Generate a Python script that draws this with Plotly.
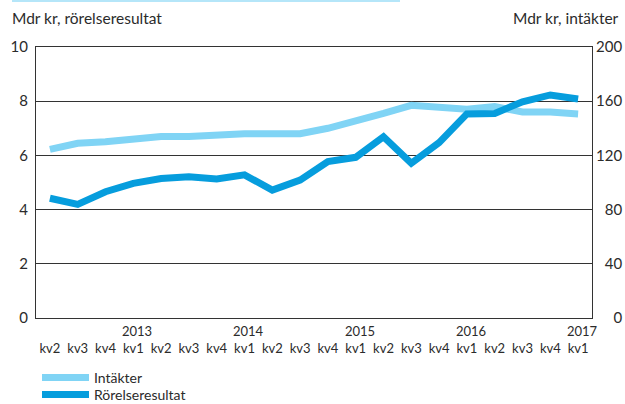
import plotly.graph_objects as go

quarters = ["kv2", "kv3", "kv4", "kv1", "kv2", "kv3", "kv4", "kv1", "kv2", "kv3",
            "kv4", "kv1", "kv2", "kv3", "kv4", "kv1", "kv2", "kv3", "kv4", "kv1"]
years = ["2012", "2012", "2012", "2013", "2013", "2013", "2013", "2014", "2014", "2014",
         "2014", "2015", "2015", "2015", "2015", "2016", "2016", "2016", "2016", "2017"]
categories = [f"{y} {q}" for y, q in zip(years, quarters)]

intakter = [124.5, 129, 130, 132, 134, 134, 135.5, 136, 136, 136,
            140, 145, 151, 157, 155, 154, 156, 152, 152, 150.5]
rorelseresultat = [4.42, 4.19, 4.66, 4.97, 5.15, 5.21, 5.13, 5.28, 4.72, 5.09,
                   5.77, 5.93, 6.69, 5.71, 6.47, 7.53, 7.55, 7.98, 8.23, 8.08]

left_ticks = [0, 2, 4, 6, 8, 10]
right_ticks = [0, 40, 80, 120, 160, 200]
year_labels = ["2013", "2014", "2015", "2016", "2017"]

FONT = "Lato, 'Open Sans', sans-serif"
TXT = "#2b2b2b"
DARK = "#069ddd"
LIGHT = "#80d4f5"

L, R, T, B = 36, 592, 47, 318
PW, PH = R - L, B - T

fig = go.Figure()
fig.add_trace(go.Scatter(x=categories, y=intakter, name="Intäkter", mode="lines",
                         line=dict(color=LIGHT, width=7), yaxis="y", legend="legend"))
fig.add_trace(go.Scatter(x=categories, y=rorelseresultat, name="Rörelseresultat", mode="lines",
                         line=dict(color=DARK, width=7), yaxis="y2", legend="legend2"))

leg_common = dict(xanchor="left", yanchor="middle", font=dict(size=14, color=TXT),
                  itemwidth=47, bgcolor="rgba(0,0,0,0)", borderwidth=0)

fig.update_layout(
    width=625, height=404,
    margin=dict(l=L, r=625 - R, t=T, b=404 - B, autoexpand=False),
    paper_bgcolor="white", plot_bgcolor="white",
    font=dict(family=FONT, size=14, color=TXT),
    showlegend=True,
    legend=dict(x=(37 - L) / PW, y=-(378 - B) / PH, **leg_common),
    legend2=dict(x=(37 - L) / PW, y=-(395 - B) / PH, **leg_common),
    xaxis=dict(type="category", tickmode="array", tickvals=categories, ticktext=quarters,
               range=[-0.5, 19.5], showgrid=False, showline=True, linecolor="#333",
               linewidth=1, mirror=True, ticks="outside", ticklen=18, automargin=False,
               tickcolor="rgba(0,0,0,0)", tickfont=dict(size=13, color=TXT), tickangle=0),
    yaxis=dict(side="right", range=[0, 200], tickvals=right_ticks, automargin=False,
               ticktext=[f"{v:>3d}".replace(" ", "\u2007") for v in right_ticks],
               showgrid=True, gridcolor="#333", gridwidth=1, zeroline=False,
               showline=True, linecolor="#333", linewidth=1, ticks="",
               tickfont=dict(size=15, color=TXT)),
    yaxis2=dict(side="left", overlaying="y", range=[0, 10], tickvals=left_ticks,
                showgrid=False, zeroline=False, showline=True, linecolor="#333",
                linewidth=1, ticks="", ticklabelstandoff=4, automargin=False,
                tickfont=dict(size=15, color=TXT)),
)

for i, yl in zip([3, 7, 11, 15, 19], year_labels):
    fig.add_annotation(x=categories[i], y=0, xref="x", yref="paper", text=yl,
                       showarrow=False, yanchor="top", yshift=-3, xshift=4,
                       font=dict(size=13, color=TXT))

fig.add_annotation(xref="paper", yref="paper", x=(10 - L) / PW, y=1 + (T - 18) / PH,
                   text="Mdr kr, rörelseresultat", showarrow=False, xanchor="left",
                   yanchor="middle", font=dict(size=15.5, color=TXT))
fig.add_annotation(xref="paper", yref="paper", x=(621 - L) / PW, y=1 + (T - 18) / PH,
                   text="Mdr kr, intäkter", showarrow=False, xanchor="right",
                   yanchor="middle", font=dict(size=15.5, color=TXT))

# decorative thin line at page top
fig.add_shape(type="line", xref="paper", yref="paper",
              x0=(12 - L) / PW, x1=(400 - L) / PW, y0=1 + (T - 1) / PH, y1=1 + (T - 1) / PH,
              line=dict(color="#b5e6f9", width=2))

fig.write_html("out.html", config={"displayModeBar": False},
               post_script="document.body.style.margin='0';document.body.style.overflow='hidden';")
